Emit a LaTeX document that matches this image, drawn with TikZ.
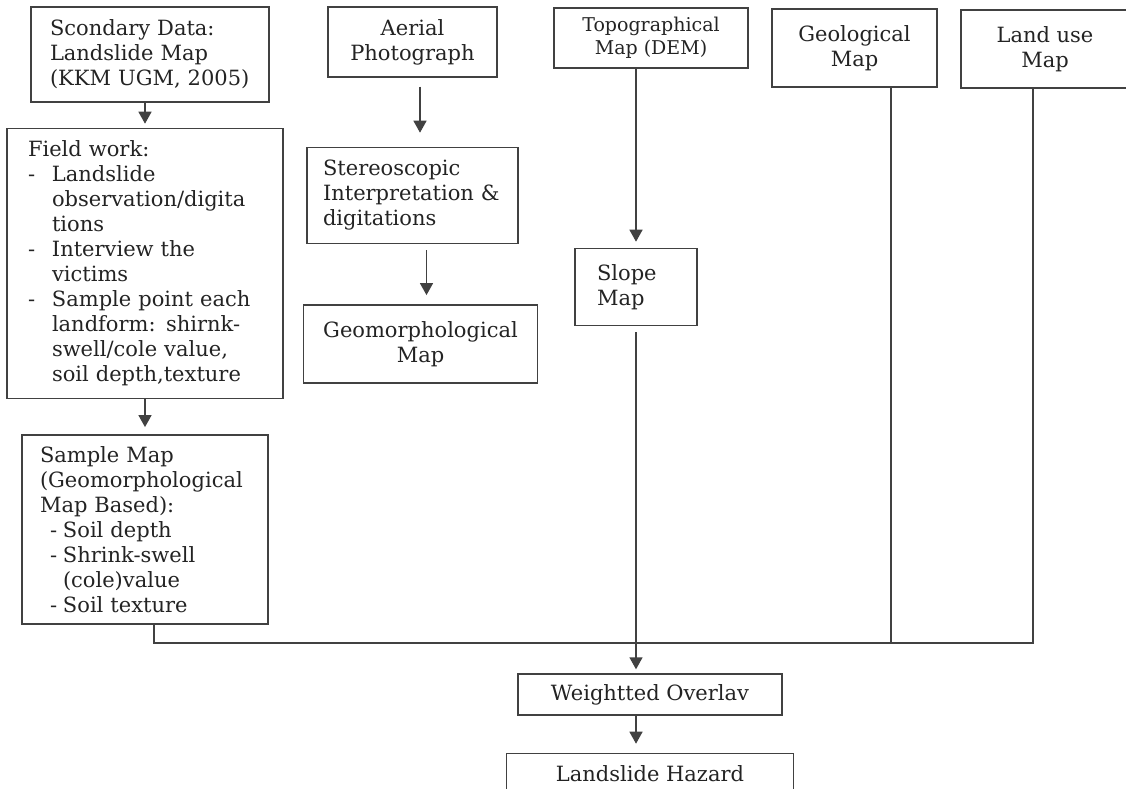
\documentclass[tikz,border=0pt]{standalone}
\usepackage{fontspec}
\setmainfont{DejaVu Serif}
\definecolor{linegray}{RGB}{65,65,65}
\definecolor{inkgray}{RGB}{35,35,35}
\usetikzlibrary{arrows.meta,positioning}
\newcommand{\boxfont}{\fontsize{21}{25}\selectfont}
\newcommand{\dsh}{\makebox[24pt][l]{-}}
\newcommand{\ind}{\hspace*{24pt}}
\newcommand{\sdsh}{\hspace*{10pt}\makebox[13pt][l]{-}}
\newcommand{\sind}{\hspace*{23pt}}

\begin{document}
\begin{tikzpicture}[x=1pt, y=-1pt,
        node distance=25pt,
        box/.style={rectangle, draw=linegray, line width=1.4pt, text=inkgray,
                    inner xsep=20pt, inner ysep=0pt, align=center, font=\boxfont},
        lbox/.style={box, align=left},
        arrow/.style={-{Triangle[width=13pt,length=12pt]}, line width=1.4pt, linegray},
        link/.style={line width=1.4pt, linegray}
    ]
        \useasboundingbox (0,0) rectangle (1126,788);

        \node[lbox, minimum height=95pt, inner xsep=19pt, text width=200pt] (sec) at (150,54.5)
            {Scondary Data:\\Landslide Map\\(KKM UGM, 2005)};
        \node[lbox, below=25pt of sec, xshift=-5pt, minimum height=270pt,
              inner xsep=21pt, text width=234pt] (field)
            {Field work:\\
             \dsh Landslide\\
             \ind observation/digita\\
             \ind tions\\
             \dsh Interview the\\
             \ind victims\\
             \dsh Sample point each\\
             \ind landform: shirnk-\\
             \ind swell/cole value,\\
             \ind soil depth,texture};
        \node[lbox, below=35pt of field, minimum height=189pt,
              inner xsep=18pt, text width=210pt] (sample)
            {Sample Map\\
             (Geomorphological\\
             Map Based):\\
             \sdsh Soil depth\\
             \sdsh Shrink-swell\\
             \sind (cole)value\\
             \sdsh Soil texture};

        \node[box, minimum width=169pt, minimum height=70pt] (aerial) at (412.5,42)
            {Aerial\\Photograph};
        \node[lbox, below=69pt of aerial, minimum height=96pt,
              inner xsep=16pt, text width=179pt] (stereo)
            {Stereoscopic\\Interpretation \&\\digitations};
        \node[box, below=60pt of stereo, xshift=8pt, minimum width=227pt,
              minimum height=78pt] (geomorph)
            {Geomorphological\\Map};

        \node[box, minimum width=194pt, minimum height=60pt,
              font=\fontsize{19}{23}\selectfont] (topo) at (651,38)
            {Topographical\\Map (DEM)};
        \node[lbox, below=179pt of topo, xshift=-15pt, minimum height=77pt,
              inner xsep=22pt, text width=78pt] (slope)
            {Slope\\Map};

        \node[box, minimum width=165pt, minimum height=78pt] (geol) at (854.5,48)
            {Geological\\Map};
        \node[box, minimum width=168pt, minimum height=78pt] (landuse) at (1045,49)
            {Land use\\Map};

        \node[box, minimum width=264pt, minimum height=41pt] (overlay) at (650,694.5)
            {Weightted Overlav};
        \node[box, below=37pt of overlay, minimum width=287pt, minimum height=41pt] (hazard)
            {Landslide Hazard};

        \coordinate (busL) at (154,643);
        \coordinate (busR) at (1033,643);
        \coordinate (geolDrop) at (891,643);

        \draw[arrow, shorten >=4pt] (field.north |- sec.south) -- (field.north);
        \draw[arrow, shorten >=7pt] (sample.north |- field.south) -- (sample.north);
        \draw[arrow, shorten <=9pt, shorten >=14pt] ([xshift=7.5pt]aerial.south)
            -- ([xshift=7.5pt]aerial.south |- stereo.north);
        \draw[arrow, shorten <=6pt, shorten >=9pt] ([xshift=6pt]geomorph.north |- stereo.south)
            -- ([xshift=6pt]geomorph.north);
        \draw[arrow, shorten >=6pt] (slope.north |- topo.south) -- (slope.north);
        \draw[arrow, shorten <=6pt, shorten >=4pt] (slope.south) -- (slope.south |- overlay.north);
        \draw[arrow, shorten >=9pt] (slope.south |- overlay.south) -- (slope.south |- hazard.north);

        \draw[link] (sample.south -| busL) -- (busL) -- (busR) -- (busR |- landuse.south);
        \draw[link] (geol.south -| geolDrop) -- (geolDrop);
    \end{tikzpicture}
\end{document}
